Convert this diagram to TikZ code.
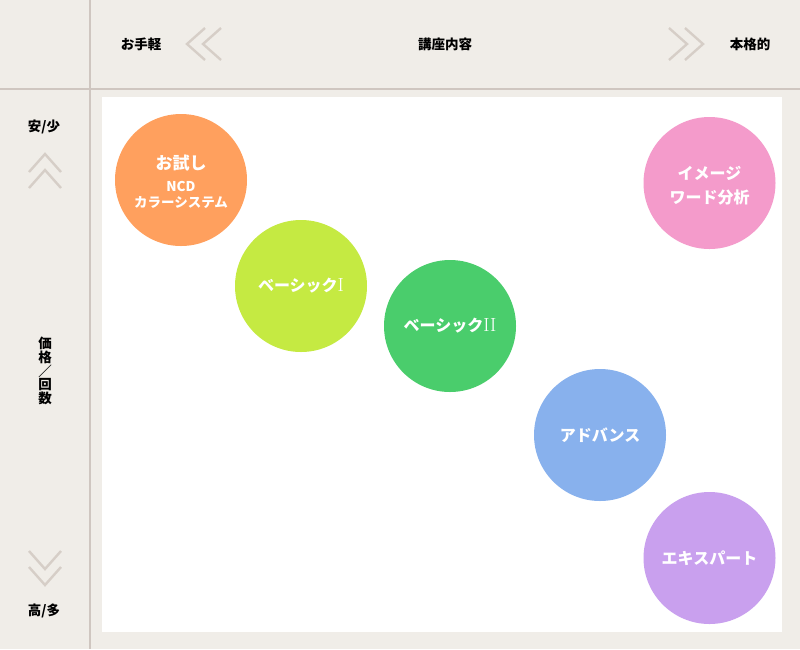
\documentclass[tikz,border=0pt]{standalone}
\usepackage{fontspec}
\newfontfamily\jpfont{Noto Sans CJK JP}
\usetikzlibrary{positioning}

\definecolor{bgbeige}{HTML}{F0EDE8}
\definecolor{rulegray}{HTML}{CFC6C0}
\definecolor{chevgray}{HTML}{D6CEC7}
\definecolor{cOrange}{HTML}{FFA05E}
\definecolor{cLime}{HTML}{C5EA42}
\definecolor{cGreen}{HTML}{4ACD6C}
\definecolor{cBlue}{HTML}{88B1ED}
\definecolor{cPurple}{HTML}{C9A0EE}
\definecolor{cPink}{HTML}{F49BCB}

\tikzset{
  axislabel/.style={font=\jpfont\bfseries\fontsize{13.5}{13.6}\selectfont, text=black, inner sep=0pt, align=center},
  course/.style={circle, minimum size=132pt, inner sep=0pt, text=white, align=center,
    font=\jpfont\bfseries\fontsize{16}{24}\selectfont},
  coursetext/.style={inner sep=0pt, text=white, align=center,
    font=\jpfont\bfseries\fontsize{16}{24}\selectfont},
  chev/.style={draw=chevgray, line width=2.4pt}
}

\begin{document}
\begin{tikzpicture}[x=1pt,y=-1pt]
  \useasboundingbox (0,0) rectangle (800,649);
  \fill[bgbeige] (0,0) rectangle (800,649);
  \fill[white] (102,97) rectangle (782,632);
  \draw[rulegray, line width=2pt] (90,0) -- (90,649);
  \draw[rulegray, line width=2pt] (0,89) -- (800,89);

  % header
  \node[axislabel] (easy) at (141,44) {お手軽};
  \node[axislabel] (content) at (445,44) {講座内容};
  \node[axislabel] (full) at (750,44) {本格的};
  \draw[chev] (205,28) -- (187,44) -- (205,60);
  \draw[chev] (221,28) -- (203,44) -- (221,60);
  \draw[chev] (669,28) -- (687,44) -- (669,60);
  \draw[chev] (685,28) -- (703,44) -- (685,60);

  % side
  \node[axislabel] (cheap) at (44,127) {安/少};
  \node[axislabel] (price) at (45,371) {価\\格\\／\\回\\数};
  \node[axislabel] (dear) at (44,611) {高/多};
  \draw[chev] (29,172) -- (45,154) -- (61,172);
  \draw[chev] (29,188) -- (45,170) -- (61,188);
  \draw[chev] (29,551) -- (45,569) -- (61,551);
  \draw[chev] (29,567) -- (45,585) -- (61,567);

  % courses
  \node[course, fill=cOrange] (trial) at (181,180) {};
  \node[coursetext] (trialtext) at ([yshift=-2pt]trial.center)
    {\fontsize{17}{23}\selectfont お試し\\[-2pt]
     \fontsize{13.5}{15.5}\selectfont NCD\\[-8pt]
     \fontsize{13.5}{15.5}\selectfont カラーシステム};
  \node[course, fill=cLime] (basic1) at (301,286) {ベーシック{\rmfamily\mdseries\fontsize{19}{24}\selectfont I}};
  \node[course, fill=cGreen] (basic2) at (450,326) {ベーシック{\rmfamily\mdseries\fontsize{19}{24}\selectfont II}};
  \node[course, fill=cBlue] (advance) at (600,435) {アドバンス};
  \node[course, fill=cPurple] (expert) at (709.5,558) {エキスパート};
  \node[course, fill=cPink] (image) at (709.5,183) {};
  \node[coursetext] (imagetext) at ([yshift=-3pt]image.center) {イメージ\\ワード分析};
\end{tikzpicture}
\end{document}
